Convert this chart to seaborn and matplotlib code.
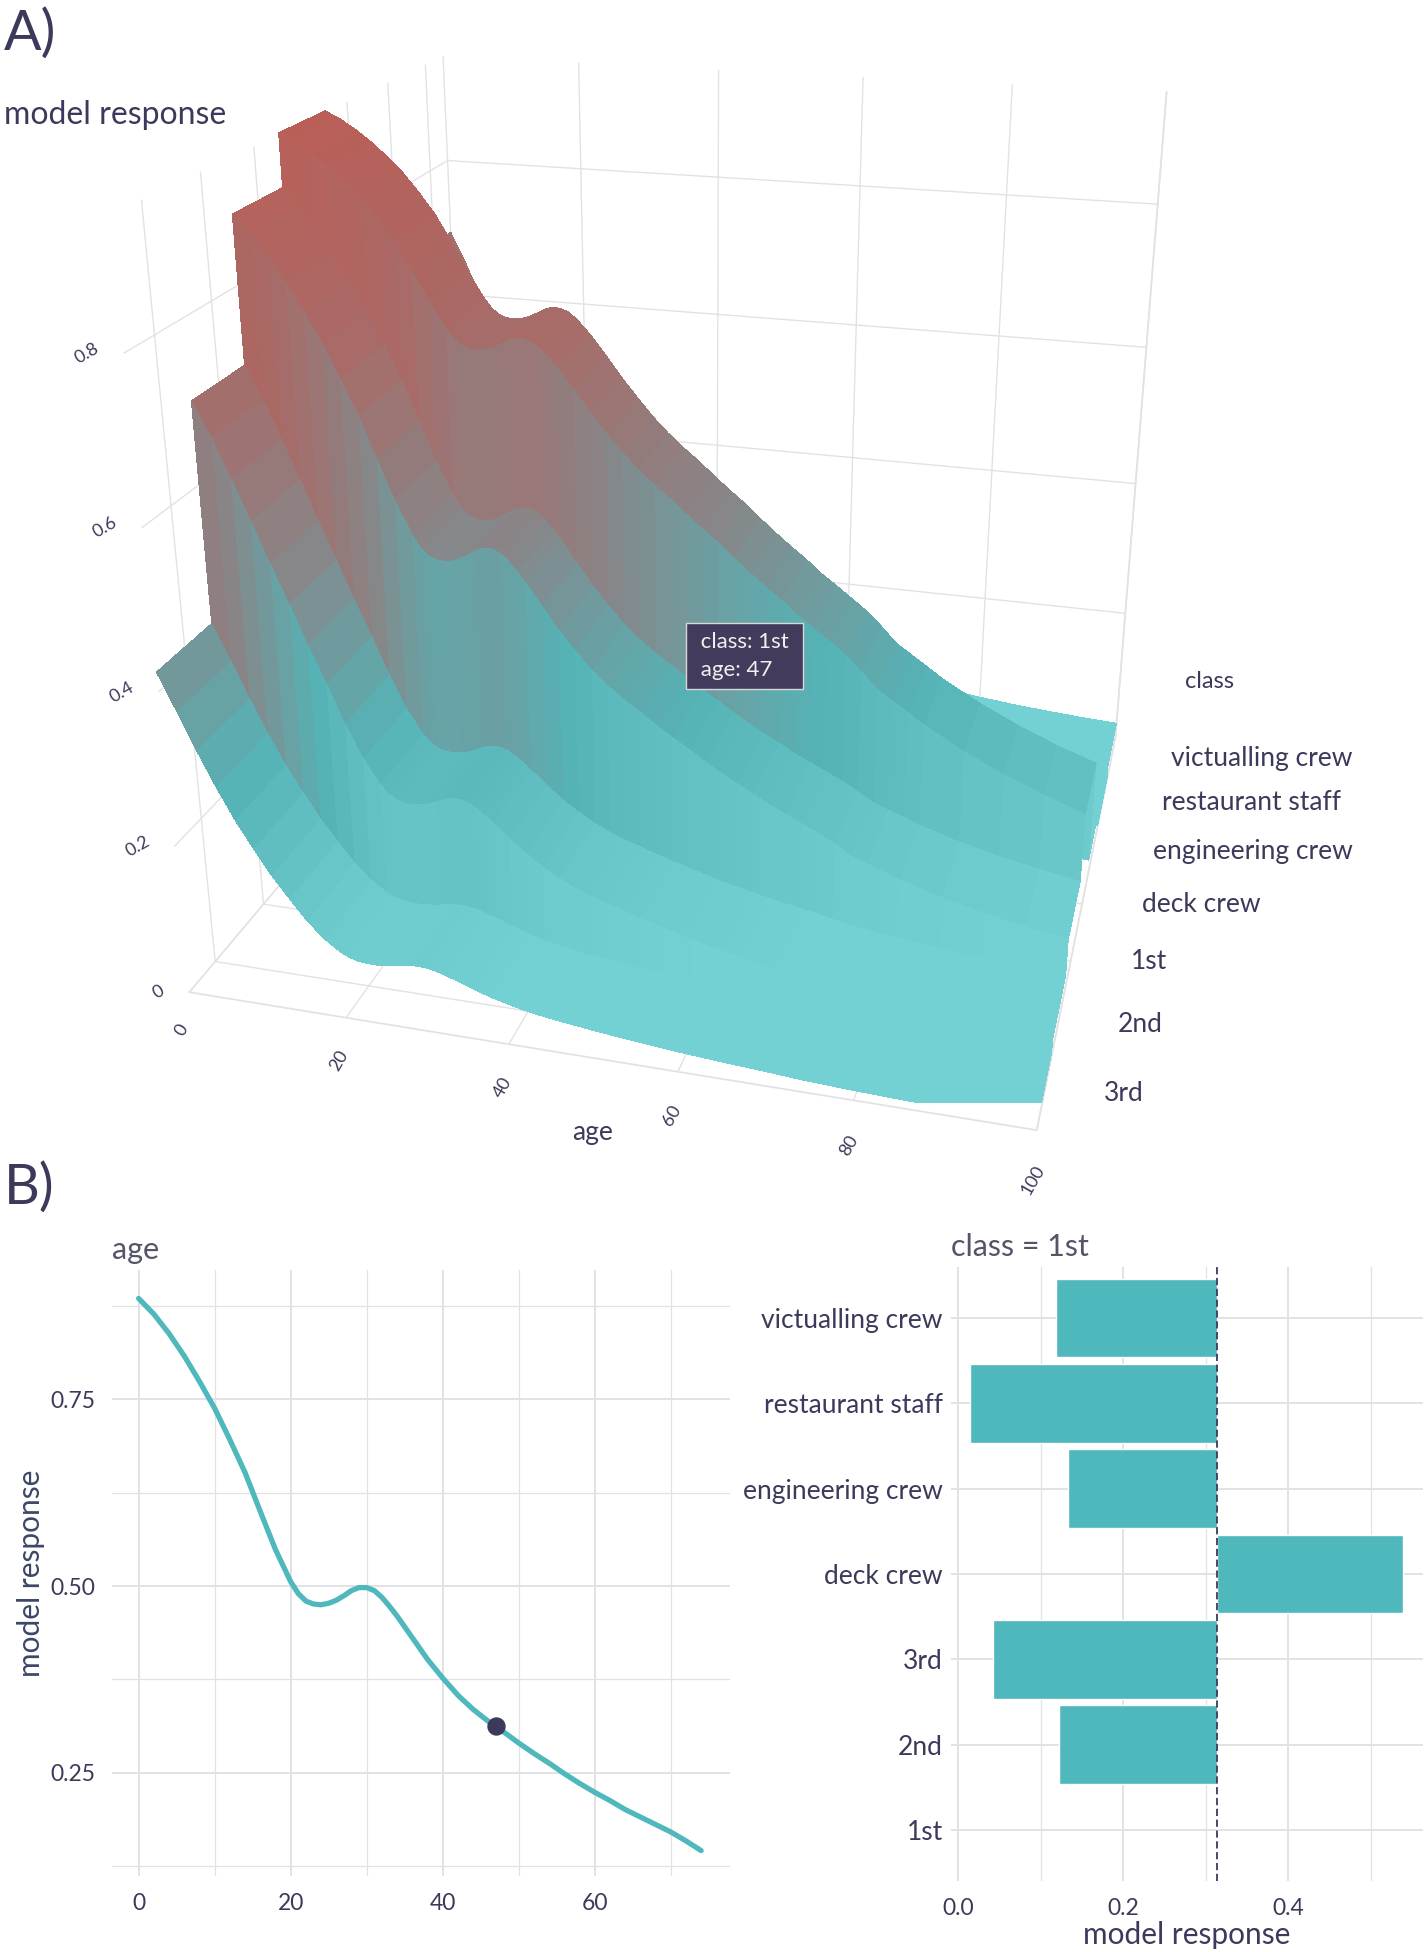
import numpy as np
import pandas as pd
import matplotlib
matplotlib.use("Agg")
import matplotlib.pyplot as plt
import seaborn as sns
from matplotlib.colors import LinearSegmentedColormap, Normalize, LightSource
from matplotlib.ticker import MultipleLocator

# ---------------- data ----------------
age_points = [0, 2, 4, 6, 8, 10, 12, 14, 16, 18, 20, 21, 22, 23, 24, 25, 26, 27, 28, 29,
              30, 31, 32, 33, 34, 36, 38, 40, 42, 44, 46, 48, 50, 52, 54, 56, 58, 60,
              62, 64, 66, 68, 70, 72, 74]
profile_1st = [0.885, 0.864, 0.838, 0.808, 0.774, 0.738, 0.696, 0.652, 0.600, 0.549,
               0.506, 0.490, 0.480, 0.476, 0.475, 0.477, 0.481, 0.487, 0.494, 0.498,
               0.498, 0.494, 0.485, 0.473, 0.460, 0.431, 0.402,
               0.377, 0.354, 0.335, 0.319, 0.305, 0.290, 0.276, 0.263, 0.249, 0.236,
               0.224, 0.213, 0.201, 0.191, 0.181, 0.171, 0.159, 0.146]
# continuation of the profile visible in the 3D panel (ages up to 100)
age_tail = [76, 78, 80, 85, 90, 95, 100]
profile_tail = [0.138, 0.130, 0.122, 0.106, 0.093, 0.082, 0.073]

obs_age = 47
obs_response = 0.313

class_labels = ["1st", "2nd", "3rd", "deck crew", "engineering crew",
                "restaurant staff", "victualling crew"]
class_response = [0.3136, 0.1226, 0.042, 0.5395, 0.133, 0.014, 0.1186]
class_order_3d = ["3rd", "2nd", "1st", "deck crew", "engineering crew",
                  "restaurant staff", "victualling crew"]
z_ticks = [0, 0.2, 0.4, 0.6, 0.8]
z_ticklabels = ["0", "0.2", "0.4", "0.6", "0.8"]
age_ticks = [0, 20, 40, 60, 80, 100]

# ---------------- style ----------------
TEAL = "#4fb8bc"
DARK = "#3b3a5a"
GRID = "#e2e2e6"

sns.set_theme(style="whitegrid")
plt.rcParams["font.family"] = ["Lato", "DejaVu Sans"]
plt.rcParams["grid.color"] = GRID
plt.rcParams["text.color"] = DARK
plt.rcParams["axes.labelcolor"] = DARK
plt.rcParams["xtick.color"] = DARK
plt.rcParams["ytick.color"] = DARK

W, H = 1427, 1952
fig = plt.figure(figsize=(W / 100, H / 100), dpi=100)


def fx(px):
    return px / W


def fy(py):
    return 1 - py / H


# ---------------- panel A : 3D surface ----------------
def logit(p):
    p = np.asarray(p, dtype=float)
    return np.log(p / (1 - p))


ages3d = np.array(age_points + age_tail, dtype=float)
prof3d = np.array(profile_1st + profile_tail, dtype=float)
resp = dict(zip(class_labels, class_response))

rows_y, rows_z = [], []
for i, c in enumerate(class_order_3d):
    shift = logit(resp[c]) - logit(resp["1st"])
    zc = 1 / (1 + np.exp(-(logit(prof3d) + shift)))
    for yy in (i - 0.5, i + 0.5):
        rows_y.append(yy)
        rows_z.append(zc)
Xg, Yg = np.meshgrid(ages3d, np.array(rows_y))
Zg = np.array(rows_z)

cmap = LinearSegmentedColormap.from_list(
    "tealred", [(0.0, "#74d1d3"), (0.25, "#55b3b6"), (0.5, "#8a8486"),
                (0.75, "#a96a66"), (1.0, "#b95f58")])

ax3 = fig.add_axes([0.05, 0.435, 0.86, 0.58], projection="3d")
ax3.set_proj_type("persp", focal_length=0.36)
ax3.view_init(elev=22, azim=-75)
ax3.plot_surface(Xg, Yg, Zg, cmap=cmap, norm=Normalize(0.05, 0.95),
                 rstride=1, cstride=1, linewidth=0, antialiased=False, shade=True,
                 lightsource=LightSource(azdeg=300, altdeg=55))
ax3.set_xlim(0, 100)
ax3.set_ylim(-0.5, 6.5)
ax3.set_zlim(0, 0.95)
ax3.set_box_aspect((1.15, 1.08, 1.08), zoom=1.15)
ax3.set_xticks(age_ticks)
ax3.set_xticklabels([str(a) for a in age_ticks])
ax3.set_zticks(z_ticks)
ax3.set_zticklabels([])
ax3.set_yticks(range(len(class_order_3d)))
ax3.set_yticklabels([])
ax3.tick_params(axis="x", labelsize=13, pad=3, labelrotation=60)
for axis in (ax3.xaxis, ax3.yaxis, ax3.zaxis):
    axis._axinfo["tick"]["inward_factor"] = 0.0
    axis._axinfo["tick"]["outward_factor"] = 0.0
ax3.set_xlabel("")
ax3.set_ylabel("")
ax3.set_zlabel("")
for a in (ax3.xaxis, ax3.yaxis, ax3.zaxis):
    a.set_pane_color((1, 1, 1, 0))
    a.line.set_color(GRID)
ax3.set_facecolor("white")

# place labels that follow the 3D projection
fig.canvas.draw()
M = ax3.M


def proj_fig(x, y, z):
    v = M @ np.array([x, y, z, 1.0])
    xs, ys = v[0] / v[3], v[1] / v[3]
    disp = ax3.transData.transform((xs, ys))
    return fig.transFigure.inverted().transform(disp)


for zt, zl in zip(z_ticks, z_ticklabels):
    px_, py_ = proj_fig(0, -0.5, zt)
    fig.text(px_ - 22 / W, py_, zl, fontsize=13, rotation=30, ha="right", va="center")
for i, cl in enumerate(class_order_3d):
    px_, py_ = proj_fig(100, i, 0)
    fig.text(px_ + 60 / W, py_, cl, fontsize=19, ha="left", va="center")
ax_x, ax_y = proj_fig(50, -0.5, 0)
fig.text(ax_x, ax_y - 75 / H, "age", fontsize=19, ha="center", va="center")

fig.text(fx(1210), fy(681), "class", fontsize=17, va="center", ha="center")
fig.text(fx(4), fy(115), "model response", fontsize=23, va="center", ha="left")
fig.text(fx(695), fy(656), " class: 1st \n age: 47 ", fontsize=16, color="#f0f0f0",
         va="center", ha="left", linespacing=1.5,
         bbox=dict(boxstyle="square,pad=0.4", fc="#433b5c", ec="#d8d8d8", lw=1))

fig.text(fx(4), fy(34), "A)", fontsize=40, va="center", ha="left")
fig.text(fx(4), fy(1188), "B)", fontsize=40, va="center", ha="left")

# ---------------- panel B left : ceteris paribus profile ----------------
axL = fig.add_axes([fx(112), fy(1876), fx(730 - 112), fy(1270) - fy(1876)])
prof_df = pd.DataFrame({"age": age_points, "response": profile_1st})
sns.lineplot(data=prof_df, x="age", y="response", color=TEAL, linewidth=3.8, ax=axL)
sns.scatterplot(x=[obs_age], y=[obs_response], color=DARK, s=150, zorder=5,
                edgecolor=DARK, ax=axL)
axL.set_xlim(-3.5, 77.8)
axL.set_ylim(0.112, 0.923)
axL.set_xticks([0, 20, 40, 60])
axL.set_yticks([0.25, 0.50, 0.75])
axL.set_yticklabels(["0.25", "0.50", "0.75"])
axL.xaxis.set_minor_locator(MultipleLocator(10))
axL.yaxis.set_minor_locator(MultipleLocator(0.125))
axL.grid(which="major", color=GRID, linewidth=1.4)
axL.grid(which="minor", color=GRID, linewidth=0.9)
axL.tick_params(labelsize=16.5, length=0, pad=12)
axL.set_xlabel("")
axL.set_ylabel("model response", fontsize=21.5, color="#3b4766", labelpad=4)
axL.set_title("age", loc="left", fontsize=22, pad=8, color="#55556a")
sns.despine(ax=axL, left=True, bottom=True)

# ---------------- panel B right : break-down by class ----------------
axR = fig.add_axes([fx(951), fy(1881), fx(1423 - 951), fy(1267) - fy(1881)])
base = resp["1st"]
ypos = np.arange(len(class_labels))
axR.barh(ypos, np.array(class_response) - base, left=base, height=0.92, color=TEAL, zorder=2)
axR.axvline(base, color=DARK, linestyle=(0, (4, 2)), linewidth=1.3, zorder=3)
axR.set_yticks(ypos)
axR.set_yticklabels(class_labels)
axR.set_ylim(-0.6, 6.6)
axR.set_xlim(-0.0085, 0.5636)
axR.set_xticks([0.0, 0.2, 0.4])
axR.set_xticklabels(["0.0", "0.2", "0.4"])
axR.xaxis.set_minor_locator(MultipleLocator(0.1))
axR.grid(which="major", color=GRID, linewidth=1.4)
axR.grid(which="minor", axis="x", color=GRID, linewidth=0.9)
axR.tick_params(labelsize=16.5, length=0, pad=12)
axR.tick_params(axis="y", labelsize=19, pad=6)
axR.set_xlabel("model response", fontsize=21.5, labelpad=2)
axR.set_title("class = 1st", loc="left", fontsize=22, pad=8, color="#55556a")
sns.despine(ax=axR, left=True, bottom=True)

fig.savefig("out.png", dpi=100, facecolor="white")
